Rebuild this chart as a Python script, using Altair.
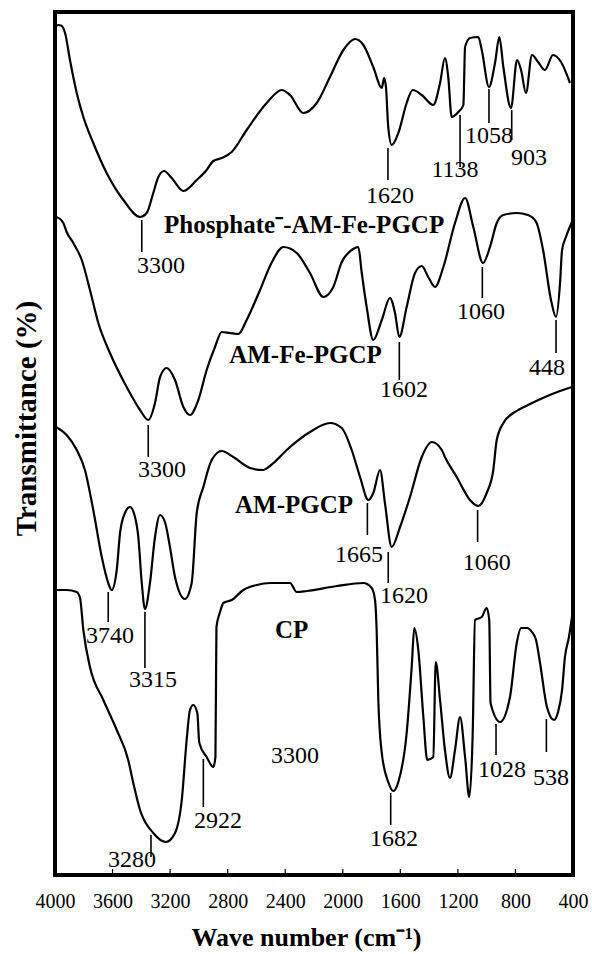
import altair as alt
import pandas as pd

SERIF = "Liberation Serif"

# ---- spectra: wavenumber (cm-1) and offset transmittance (a.u.) ----
phos_wn = [3997, 3979, 3958, 3930, 3896, 3849, 3803, 3734, 3641, 3525, 3409, 3363, 3317, 3282,
           3242, 3189, 3108, 3015, 2946, 2900, 2841, 2772, 2668, 2529, 2424, 2367, 2274, 2181,
           2089, 1996, 1915, 1857, 1788, 1729, 1713, 1700, 1684, 1660, 1614, 1556, 1514, 1451,
           1371, 1324, 1290, 1267, 1243, 1197, 1162, 1150, 1116, 1058, 1034, 984, 942, 912, 884,
           831, 789, 761, 727, 685, 643, 595, 539, 483, 421]
phos_t = [84.7, 85.0, 84.95, 84.2, 81.5, 78.2, 75.8, 73.2, 70.2, 67.5, 65.8, 66.2, 68.2, 69.8,
          70.4, 69.7, 68.4, 69.5, 70.5, 71.4, 71.7, 72.3, 74.5, 77.2, 78.5, 78.0, 76.2, 77.2,
          79.8, 82.5, 83.6, 83.0, 80.8, 78.7, 79.7, 78.8, 74.8, 73.0, 74.2, 77.2, 78.5, 78.0,
          77.0, 79.2, 81.7, 79.8, 75.8, 76.3, 77.0, 82.8, 83.7, 83.8, 82.5, 78.8, 81.2, 83.8, 80.8,
          76.7, 81.5, 80.5, 78.2, 82.0, 81.3, 80.5, 82.0, 81.3, 79.2]

amfe_wn = [3993, 3965, 3942, 3919, 3873, 3814, 3757, 3699, 3618, 3502, 3409, 3352, 3305, 3270,
           3224, 3166, 3108, 3062, 3004, 2946, 2888, 2841, 2784, 2726, 2668, 2575, 2492, 2413,
           2320, 2228, 2135, 2066, 2007, 1938, 1892, 1868, 1834, 1788, 1729, 1672, 1637, 1607,
           1556, 1498, 1451, 1406, 1359, 1301, 1220, 1150, 1093, 1025, 977, 930, 884, 791, 713,
           656, 608, 553, 518, 490, 476, 449, 407]
amfe_t = [65.8, 65.6, 65.2, 64.3, 63.2, 61.5, 58.5, 55.2, 52.2, 48.8, 46.5, 45.5, 47.2, 49.8,
          50.7, 49.5, 46.8, 46.0, 47.5, 50.5, 52.8, 54.3, 54.2, 54.1, 55.5, 58.5, 61.3, 62.8,
          62.2, 60.2, 57.8, 58.8, 61.3, 62.5, 62.8, 60.2, 56.8, 53.5, 55.5, 57.7, 56.2, 53.8,
          56.8, 60.2, 60.9, 59.8, 58.8, 60.8, 65.2, 67.7, 64.8, 61.2, 62.8, 65.2, 66.0, 66.2, 66.0,
          65.3, 62.5, 57.5, 55.8, 59.2, 62.5, 63.8, 65.3]

am_wn = [3993, 3919, 3849, 3792, 3734, 3675, 3630, 3606, 3571, 3548, 3514, 3479, 3444, 3421,
         3397, 3375, 3340, 3305, 3270, 3236, 3201, 3166, 3097, 3050, 3015, 2969, 2911, 2841,
         2761, 2645, 2552, 2506, 2367, 2228, 2089, 2007, 1938, 1880, 1822, 1788, 1741, 1707,
         1660, 1602, 1533, 1451, 1382, 1312, 1290, 1208, 1116, 1058, 1000, 954, 930, 884, 815,
         768, 699, 594, 490, 407]
am_t = [44.8, 44.0, 42.5, 40.5, 36.5, 31.8, 29.2, 28.5, 30.5, 34.2, 36.2, 36.8, 35.8, 33.8,
        29.2, 26.6, 29.2, 33.8, 36.0, 35.3, 32.8, 29.8, 27.6, 29.2, 36.2, 38.8, 41.5, 42.4,
        41.8, 40.7, 40.5, 40.9, 42.8, 44.3, 45.2, 44.7, 42.5, 39.8, 37.5, 38.2, 40.5, 37.2,
        32.8, 34.8, 37.8, 41.8, 43.3, 42.5, 41.8, 39.8, 37.5, 36.9, 38.2, 40.5, 43.5, 45.2, 46.2,
        46.6, 47.1, 47.8, 48.4, 48.8]

cp_wn = [3993, 3919, 3849, 3826, 3803, 3757, 3664, 3571, 3491, 3456, 3409, 3317, 3229, 3166,
         3119, 3085, 3062, 3039, 3011, 2997, 2946, 2900, 2885, 2878, 2853, 2830, 2772, 2691,
         2598, 2506, 2367, 2320, 2251, 2042, 1857, 1799, 1776, 1764, 1753, 1729, 1684, 1649,
         1614, 1556, 1521, 1503, 1475, 1440, 1413, 1371, 1354, 1324, 1290, 1255, 1220, 1185,
         1150, 1121, 1097, 1081, 1034, 1000, 982, 973, 907, 838, 791, 761, 720, 685, 657, 629,
         581, 532, 504, 476, 456, 428, 403]
cp_t = [28.5, 28.5, 28.3, 27.7, 24.5, 20.8, 17.5, 14.5, 11.5, 9.2, 6.5, 4.2, 3.3, 4.2,
        7.5, 13.5, 16.5, 17.0, 16.2, 13.2, 11.8, 10.8, 11.8, 24.8, 26.3, 27.2, 27.5, 28.5,
        29.0, 29.2, 29.2, 28.3, 28.4, 28.9, 29.2, 28.7, 27.5, 24.2, 17.5, 12.2, 9.3, 8.4,
        9.3, 14.2, 20.8, 24.7, 22.5, 15.8, 11.5, 11.8, 21.3, 17.5, 12.5, 9.7, 12.5, 15.8,
        11.8, 7.8, 14.2, 25.5, 25.8, 26.7, 25.5, 17.2, 15.3, 17.8, 23.2, 24.7, 24.7, 24.3, 23.5, 21.2,
        16.8, 15.5, 16.3, 18.5, 21.8, 23.8, 26.2]

# ---- peak markers: position, top and bottom of the short vertical line ----
mark_wn = [3397, 1686, 1185, 984, 826,
           3352, 1607, 1030, 518,
           3630, 3375, 1829, 1684, 1063,
           3333, 2969, 1667, 935, 585]
mark_t1 = [65.5, 72.7, 76.0, 78.6, 76.5,
           45.0, 53.3, 60.8, 55.5,
           28.3, 26.3, 37.2, 32.3, 36.5,
           4.0, 11.6, 8.2, 15.1, 15.6]
mark_t2 = [62.3, 69.5, 70.8, 75.2, 73.5,
           41.8, 49.5, 57.7, 52.2,
           25.3, 20.7, 34.0, 29.2, 33.3,
           1.8, 6.8, 5.0, 12.0, 12.3]

# ---- peak labels ----
lab_text = ["3300", "1620", "1138", "1058", "903",
            "3300", "1602", "1060", "448",
            "3740", "3315", "1665", "1620", "1060",
            "3280", "2922", "3300", "1682", "1028", "538"]
lab_wn = [3263, 1672, 1220, 984, 706,
          3256, 1574, 1039, 581,
          3618, 3319, 1887, 1574, 1000,
          3465, 2867, 2332, 1644, 893, 553]
lab_t = [60.2, 67.2, 69.8, 73.2, 71.0,
         39.8, 47.8, 55.6, 50.0,
         23.2, 18.8, 31.3, 27.2, 30.5,
         0.8, 4.7, 11.2, 2.9, 9.8, 9.0]

# ---- sample names ----
name_text = ["Phosphate\u207b-AM-Fe-PGCP", "AM-Fe-PGCP", "AM-PGCP", "CP"]
name_wn = [2269, 2259, 2339, 2356]
name_t = [64.2, 51.2, 36.2, 23.7]

axis_ticks = [4000, 3600, 3200, 2800, 2400, 2000, 1600, 1200, 800, 400]
inner_ticks = [3600, 3200, 2800, 2400, 2000, 1600, 1200, 800]

frames = []
for name, wn, t in [("Phosphate-AM-Fe-PGCP", phos_wn, phos_t), ("AM-Fe-PGCP", amfe_wn, amfe_t),
                    ("AM-PGCP", am_wn, am_t), ("CP", cp_wn, cp_t)]:
    frames.append(pd.DataFrame({"wn": wn, "t": t, "series": name}))
spec = pd.concat(frames, ignore_index=True)

marks_df = pd.DataFrame({"wn": mark_wn, "t1": mark_t1, "t2": mark_t2})
labs_df = pd.DataFrame({"wn": lab_wn, "t": lab_t, "text": lab_text})
names_df = pd.DataFrame({"wn": name_wn, "t": name_t, "text": name_text})
ticks_df = pd.DataFrame({"wn": inner_ticks})

xscale = alt.Scale(domain=[400, 4000], reverse=True, nice=False, zero=False)
yscale = alt.Scale(domain=[0, 86.3], nice=False, zero=False)

xaxis = alt.Axis(values=axis_ticks, format="d", labelFont=SERIF, labelFontSize=20,
                 labelColor="black", labelPadding=16, labelFlush=False, labelOverlap=False,
                 ticks=False, tickSize=0, domain=False, grid=False,
                 title="Wave number (cm\u207b\u00b9)", titleFont=SERIF, titleFontSize=26,
                 titleFontWeight="bold", titleColor="black", titleX=251, titleY=70,
                 titleAlign="center", titleBaseline="alphabetic")
yaxis = alt.Axis(labels=False, ticks=False, domain=False, grid=False,
                 title="Transmittance (%)", titleFont=SERIF, titleFontSize=29,
                 titleFontWeight="bold", titleColor="black", titleX=-29, titleY=406,
                 titleAngle=270, titleAlign="center", titleBaseline="middle")

lines = alt.Chart(spec).mark_line(color="black", strokeWidth=2.2, interpolate="monotone").encode(
    x=alt.X("wn:Q", scale=xscale, axis=xaxis),
    y=alt.Y("t:Q", scale=yscale, axis=yaxis),
    detail="series:N",
    order=alt.Order("wn:Q", sort="descending"),
)

peak_rules = alt.Chart(marks_df).mark_rule(color="black", strokeWidth=1.6).encode(
    x=alt.X("wn:Q", scale=xscale), y=alt.Y("t1:Q", scale=yscale), y2="t2:Q")

tick_rules = alt.Chart(ticks_df).mark_rule(color="black", strokeWidth=1.2).encode(
    x=alt.X("wn:Q", scale=xscale), y=alt.value(863), y2=alt.value(857))

labels = alt.Chart(labs_df).mark_text(font=SERIF, fontSize=24, color="black",
                                      align="center", baseline="alphabetic").encode(
    x=alt.X("wn:Q", scale=xscale), y=alt.Y("t:Q", scale=yscale), text="text:N")

names = alt.Chart(names_df).mark_text(font=SERIF, fontSize=25, fontWeight="bold", color="black",
                                      align="center", baseline="alphabetic").encode(
    x=alt.X("wn:Q", scale=xscale), y=alt.Y("t:Q", scale=yscale), text="text:N")

chart = alt.layer(lines, peak_rules, tick_rules, labels, names).properties(
    width=518, height=863,
    background="white",
    autosize=alt.AutoSizeParams(type="none"),
    padding={"left": 55, "top": 12, "right": 19, "bottom": 79},
).configure_view(stroke="black", strokeWidth=4)

chart.save("out.html", embed_options={"renderer": "svg", "actions": False})
